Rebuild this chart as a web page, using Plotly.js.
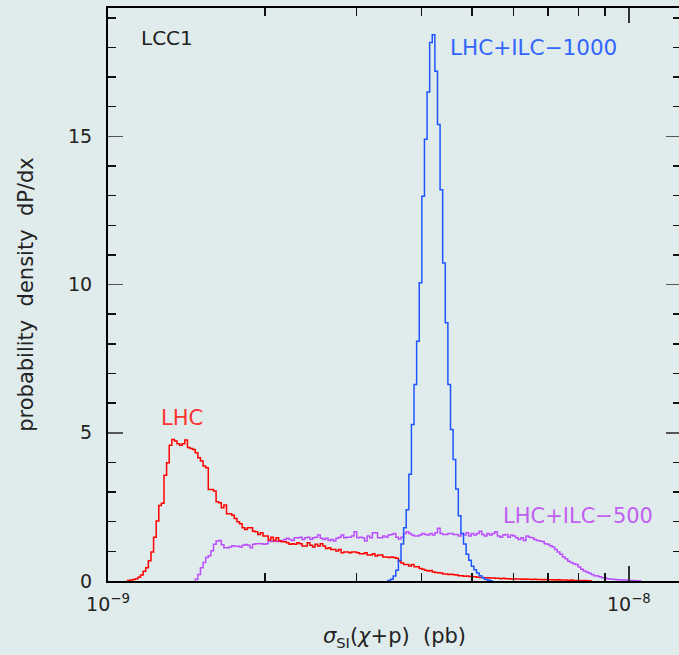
<!DOCTYPE html>
<html><head><meta charset="utf-8">
<script src="https://cdn.plot.ly/plotly-3.0.1.min.js"></script>
<style>html,body{margin:0;padding:0;background:#e0ecec;overflow:hidden;} #chart{width:700px;height:655px;}</style>
</head><body><div id="chart"></div>
<script>
// Histogram bins: centres at log10(x) = LOG10_ORIGIN + LOG10_BIN_WIDTH * k
const LOG10_ORIGIN = -9;
const LOG10_BIN_WIDTH = 0.005;

// LHC (red)
const lhcFirstBin = 8;
const lhcDensity = [
0.02,0.03,0.05,0.08,0.13,0.20,0.33,0.45,0.68,0.98,
1.48,2.02,2.55,2.62,3.57,3.99,4.58,4.77,4.72,4.63,
4.58,4.63,4.76,4.50,4.47,4.44,4.33,4.16,4.05,3.88,
3.82,3.09,3.09,3.04,2.67,2.64,2.47,2.56,2.27,2.27,
2.22,2.11,2.00,1.93,1.80,1.74,1.80,1.80,1.68,1.66,
1.57,1.63,1.52,1.52,1.38,1.48,1.37,1.46,1.35,1.32,
1.32,1.29,1.24,1.26,1.24,1.29,1.26,1.18,1.18,1.29,
1.21,1.15,1.24,1.18,1.26,1.18,1.10,1.12,1.06,1.06,
1.01,1.06,0.95,0.98,0.98,0.95,0.98,0.98,0.95,0.92,
0.92,0.95,0.88,0.88,0.92,0.84,0.88,0.88,0.81,0.81,
0.79,0.81,0.79,0.77,0.67,0.61,0.56,0.56,0.51,0.56,
0.48,0.48,0.42,0.40,0.36,0.34,0.35,0.30,0.29,0.28,
0.27,0.24,0.24,0.22,0.23,0.21,0.20,0.18,0.18,0.16,
0.17,0.15,0.14,0.14,0.13,0.12,0.12,0.11,0.11,0.10,
0.10,0.09,0.09,0.08,0.09,0.08,0.08,0.07,0.08,0.07,
0.07,0.06,0.07,0.06,0.06,0.05,0.06,0.05,0.05,0.04,
0.05,0.04,0.04,0.04,0.03,0.04,0.03,0.03,0.03,0.02,
0.03,0.02,0.02,0.02,0.01,0.02,0.01,0.01];

// LHC+ILC-500 (purple)
const ilc500FirstBin = 34;
const ilc500Density = [
0.06,0.22,0.45,0.62,0.79,0.85,1.02,1.24,1.35,1.37,
1.22,1.12,1.12,1.15,1.19,1.17,1.17,1.15,1.21,1.23,
1.21,1.12,1.24,1.26,1.26,1.26,1.24,1.26,1.35,1.33,
1.35,1.33,1.37,1.35,1.40,1.44,1.40,1.37,1.46,1.46,
1.48,1.40,1.46,1.48,1.40,1.46,1.48,1.55,1.44,1.40,
1.44,1.37,1.40,1.35,1.44,1.48,1.55,1.46,1.48,1.48,
1.52,1.66,1.46,1.48,1.46,1.35,1.52,1.46,1.63,1.63,
1.46,1.46,1.52,1.48,1.55,1.57,1.60,1.48,1.42,1.48,
1.60,1.66,1.60,1.55,1.52,1.52,1.55,1.60,1.57,1.55,
1.60,1.55,1.63,1.78,1.60,1.57,1.57,1.60,1.60,1.57,
1.57,1.52,1.60,1.55,1.63,1.52,1.60,1.55,1.60,1.68,
1.57,1.52,1.60,1.55,1.60,1.66,1.52,1.48,1.55,1.57,
1.48,1.55,1.52,1.46,1.40,1.46,1.37,1.52,1.48,1.46,
1.40,1.37,1.35,1.33,1.26,1.24,1.19,1.15,1.06,0.98,
0.90,0.81,0.75,0.67,0.62,0.58,0.56,0.47,0.40,0.34,
0.30,0.26,0.22,0.18,0.17,0.14,0.11,0.10,0.08,0.07,
0.06,0.05,0.04,0.04,0.03,0.03,0.02,0.02,0.02,0.01,
0.01];

// LHC+ILC-1000 (blue)
const ilc1000FirstBin = 108;
const ilc1000Density = [
0.02,0.06,0.17,0.36,0.70,1.25,1.80,2.40,3.60,5.28,
6.63,8.09,10.06,12.98,14.90,16.50,18.17,18.43,17.20,15.40,
13.20,10.73,8.71,6.63,5.11,4.10,3.10,2.20,1.60,1.25,
0.90,0.70,0.50,0.38,0.27,0.18,0.11,0.06,0.03,0.01];

const xMajorTicks = [1e-9, 1e-8];
const xMajorLabels = ['10<sup>\u22129</sup>', '10<sup>\u22128</sup>'];
const xMinorTicks = [2e-9, 3e-9, 4e-9, 5e-9, 6e-9, 7e-9, 8e-9, 9e-9];
const yMajorTicks = [0, 5, 10, 15];

function stepTrace(firstBin, values, name, color) {
  const edge = i => Math.pow(10, LOG10_ORIGIN + LOG10_BIN_WIDTH * (firstBin + i - 0.5));
  const xs = [edge(0)], ys = [0];
  values.forEach((v, i) => { xs.push(edge(i)); ys.push(v); });
  xs.push(edge(values.length)); ys.push(0);
  return {x: xs, y: ys, type: 'scatter', mode: 'lines', name: name,
          line: {shape: 'hv', color: color, width: 1.5}, showlegend: false, hoverinfo: 'skip'};
}

const FONT = 'DejaVu Sans, Liberation Sans, sans-serif';
const BG = '#e0ecec';
const NB = '\u00a0';

const data = [
  stepTrace(ilc500FirstBin, ilc500Density, 'LHC+ILC-500', '#bb4dff'),
  stepTrace(lhcFirstBin, lhcDensity, 'LHC', '#ff0000'),
  stepTrace(ilc1000FirstBin, ilc1000Density, 'LHC+ILC-1000', '#1f55ff')
];

const layout = {
  width: 700, height: 655,
  margin: {l: 108, r: 19, t: 8, b: 74},
  paper_bgcolor: BG, plot_bgcolor: BG,
  font: {family: FONT, color: '#222'},
  xaxis: {
    type: 'log', range: [-9, -7.9],
    tickmode: 'array', tickvals: xMajorTicks, ticktext: xMajorLabels,
    ticks: 'inside', ticklen: 15, tickwidth: 1.5, tickcolor: '#333',
    minor: {tickmode: 'array', tickvals: xMinorTicks, ticks: 'inside', ticklen: 8, tickwidth: 1.5, tickcolor: '#111', showgrid: false},
    showline: true, linecolor: '#000', linewidth: 2, mirror: 'allticks',
    showgrid: false, zeroline: false,
    tickfont: {family: FONT, size: 19, color: '#222'},
    ticklabelstandoff: 5,
    title: {text: '<i>\u03c3</i><sub>SI</sub>(<i>\u03c7</i>+p)' + NB + NB + '(pb)', font: {family: FONT, size: 21, color: '#222'}, standoff: 15}
  },
  yaxis: {
    range: [0, 19.33],
    tickmode: 'array', tickvals: yMajorTicks,
    ticks: 'inside', ticklen: 15, tickwidth: 1.5, tickcolor: '#555',
    minor: {dtick: 1, ticks: 'inside', ticklen: 8, tickwidth: 1.5, tickcolor: '#111', showgrid: false},
    showline: true, linecolor: '#000', linewidth: 2, mirror: 'allticks',
    showgrid: false, zeroline: false,
    tickfont: {family: FONT, size: 19, color: '#222'},
    ticklabelstandoff: 10,
    title: {text: 'probability' + NB + NB + 'density' + NB + NB + 'dP/dx', font: {family: FONT, size: 21, color: '#222'}, standoff: 29}
  },
  annotations: [
    {xref: 'paper', yref: 'paper', x: 0.054, y: 0.948, xanchor: 'left', yanchor: 'middle', showarrow: false,
     text: 'LCC1', font: {family: FONT, size: 20, color: '#222'}},
    {xref: 'paper', yref: 'paper', x: 0.594, y: 0.931, xanchor: 'left', yanchor: 'middle', showarrow: false,
     text: 'LHC+ILC\u22121000', font: {family: FONT, size: 21.5, color: '#3366ff'}},
    {xref: 'paper', yref: 'paper', x: 0.1286, y: 0.2837, xanchor: 'center', yanchor: 'middle', showarrow: false,
     text: 'LHC', font: {family: FONT, size: 21, color: '#ff3333'}},
    {xref: 'paper', yref: 'paper', x: 0.6865, y: 0.1127, xanchor: 'left', yanchor: 'middle', showarrow: false,
     text: 'LHC+ILC\u2212500', font: {family: FONT, size: 21, color: '#c060f0'}}
  ]
};

Plotly.newPlot('chart', data, layout, {staticPlot: true, displayModeBar: false});
</script>
</body></html>
